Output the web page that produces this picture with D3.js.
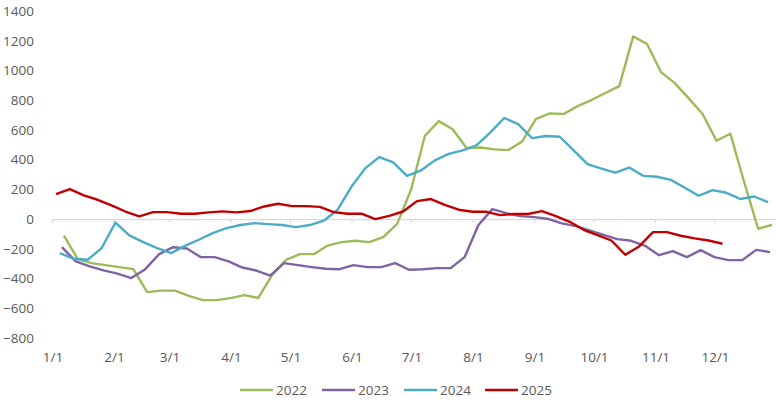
<!DOCTYPE html>
<html><head><meta charset="utf-8">
<script src="https://cdn.jsdelivr.net/npm/d3@7"></script>
<style>
html,body{margin:0;padding:0;background:#fff;}
svg{display:block;font-family:"Open Sans","Noto Sans",sans-serif;}
</style></head>
<body><svg id="c" width="776" height="405"></svg>
<script>
// Series: weekly (Friday) readings, start date + values
const seriesNames = ["2022","2023","2024","2025"];
const seriesColors = ["#9BBB59","#8064A2","#4BACC6","#C00000"];
const startDates = ["2022-01-07","2023-01-06","2024-01-05","2025-01-03"];
const v2022 = [-112,-269,-296,-310,-323,-337,-491,-481,-481,-516,-545,-545,-532,-512,-530,-375,-274,-236,-236,-178,-155,-146,-155,-121,
  -32,197,561,659,605,478,482,469,464,522,675,711,707,760,801,848,895,1229,1178,989,915,812,707,527,574,246,-65,-38];
const v2023 = [-189,-285,-318,-345,-367,-397,-337,-236,-189,-198,-256,-256,-285,-326,-346,-380,-296,-310,-323,-334,-337,-310,-323,-323,
  -296,-341,-337,-330,-330,-256,-40,67,40,20,13,2,-29,-47,-76,-106,-135,-146,-180,-243,-216,-256,-209,-256,-276,-276,-207,-222];
const v2024 = [-229,-267,-274,-195,-23,-110,-155,-195,-229,-180,-139,-94,-61,-40,-27,-34,-40,-54,-40,-11,63,219,343,417,
  381,291,327,395,439,462,496,583,680,639,545,559,554,462,370,339,312,347,291,285,264,211,157,195,177,135,152,114];
const v2025 = [168,202,159,130,92,51,18,47,47,36,36,45,52,45,54,85,103,87,87,82,47,36,36,0,
  22,51,121,135,96,63,49,49,27,34,34,54,20,-18,-72,-108,-144,-240,-184,-88,-88,-112,-130,-144,-166];
const seriesValues = [v2022, v2023, v2024, v2025];
const yTicks = [-800,-600,-400,-200,0,200,400,600,800,1000,1200,1400];
const monthLabels = ["1/1","2/1","3/1","4/1","5/1","6/1","7/1","8/1","9/1","10/1","11/1","12/1"];

const svg = d3.select("#c");
const parse = d3.utcParse("%Y-%m-%d");
const doy = d => d3.utcDay.count(d3.utcYear(d), d);

const x = d3.scaleLinear().domain([0,365]).range([52,776]);
const y = d3.scaleLinear().domain([-800,1400]).range([338,11]);

const monthStarts = d3.utcMonth.range(new Date(Date.UTC(2023,0,1)), new Date(Date.UTC(2023,11,2))).map(doy);

const FS = "13.5px";
// y-axis labels
const yAxis = d3.axisLeft(y).tickValues(yTicks).tickSize(0).tickPadding(0).tickFormat(d3.format("d"));
const gy = svg.append("g").attr("transform","translate(34,0)").call(yAxis);
gy.select(".domain").remove();
gy.selectAll("text").attr("fill","#595959").style("font-size",FS).style("font-family","'Open Sans',sans-serif");

// x axis line at zero with ticks
const xAxis = d3.axisBottom(x).tickValues(monthStarts.concat([365])).tickSize(4).tickFormat("");
const gx = svg.append("g").attr("transform",`translate(0,${y(0)})`).call(xAxis);
gx.select(".domain").attr("stroke","#d9d9d9").attr("stroke-width",1.2);
gx.selectAll(".tick line").attr("stroke","#d9d9d9").attr("stroke-width",1.2);

// x labels at bottom
svg.append("g").selectAll("text").data(monthStarts).join("text")
  .attr("x", d=>x(d)+1).attr("y",362).attr("text-anchor","middle")
  .attr("fill","#595959").style("font-size",FS).text((d,i)=>monthLabels[i]);

// lines
const line = d3.line().x(d=>x(d.t)).y(d=>y(d.v));
seriesValues.forEach((vals,si)=>{
  const s = parse(startDates[si]);
  const pts = vals.map((v,i)=>({t: doy(d3.utcDay.offset(s,7*i)), v}));
  svg.append("path").datum(pts).attr("d",line).attr("fill","none")
    .attr("stroke",seriesColors[si]).attr("stroke-width",2.4).attr("stroke-linejoin","round");
});

// legend
const legendX = [240,322,404,485];
const lg = svg.append("g");
seriesNames.forEach((n,i)=>{
  lg.append("line").attr("x1",legendX[i]).attr("x2",legendX[i]+33).attr("y1",390).attr("y2",390)
    .attr("stroke",seriesColors[i]).attr("stroke-width",2.4);
  lg.append("text").attr("x",legendX[i]+36).attr("y",395).attr("fill","#595959")
    .style("font-size",FS).text(n);
});
</script></body></html>
